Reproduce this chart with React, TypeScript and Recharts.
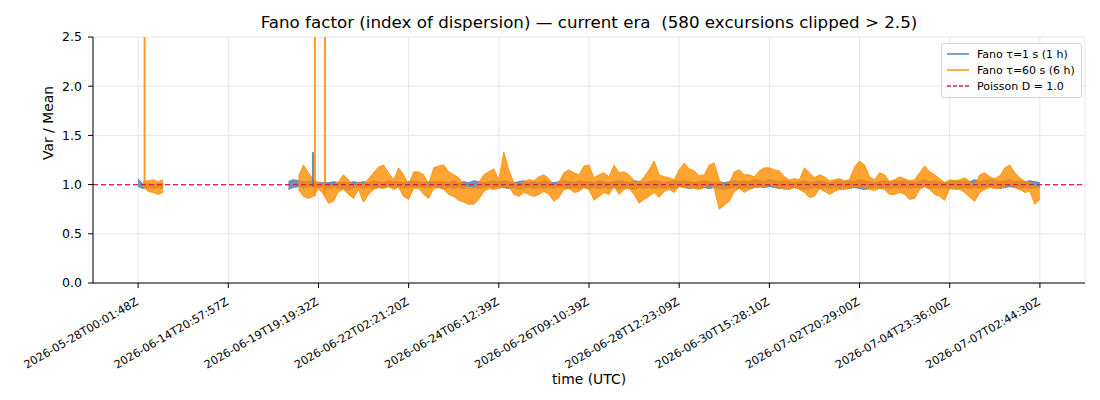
import { Area, Bar, CartesianGrid, ComposedChart, Legend, ReferenceLine, XAxis, YAxis } from "recharts";

// x is a sample index (0..180); ticks sit on every 18th sample
const tickIdx = [0, 18, 36, 54, 72, 90, 108, 126, 144, 162, 180];
const tickLabels = [
  "2026-05-28T00:01:48Z",
  "2026-06-14T20:57:57Z",
  "2026-06-19T19:19:32Z",
  "2026-06-22T02:21:20Z",
  "2026-06-24T06:12:39Z",
  "2026-06-26T09:10:39Z",
  "2026-06-28T12:23:09Z",
  "2026-06-30T15:28:10Z",
  "2026-07-02T20:29:00Z",
  "2026-07-04T23:36:00Z",
  "2026-07-07T02:44:30Z",
];
const yTicks = [0, 0.5, 1.0, 1.5, 2.0, 2.5];

// first short segment (samples 0..5): low / high envelope of each series
const seg1Start = 0;
const blueLo1 = [0.98, 0.96, 0.97, 0.96, 0.97, 0.96];
const blueHi1 = [1.06, 1.0, 1.01, 1.0, 1.01, 1.01];
const orangeLo1 = [null, 0.98, 0.93, 0.92, 0.9, 0.92];
const orangeHi1 = [null, 1.03, 1.04, 1.05, 1.03, 1.05];

// main segment (samples 30..180)
const seg2Start = 30;
const blueLo2 = [
  0.95, 0.97, 0.98, 0.97, 0.98, 0.98, 0.97, 0.98, 0.96, 0.98, 0.96, 0.96, 0.94, 0.97, 0.98, 0.96, 0.97, 0.96, 0.97, 0.97,
  0.98, 0.97, 0.98, 0.96, 0.97, 0.98, 0.98, 0.97, 0.97, 0.98, 0.97, 0.96, 0.97, 0.96, 0.97, 0.96, 0.98, 0.97, 0.96, 0.97,
  0.98, 0.97, 0.98, 0.97, 0.96, 0.97, 0.95, 0.96, 0.97, 0.96, 0.97, 0.96, 0.97, 0.96, 0.98, 0.97, 0.96, 0.97, 0.96, 0.97,
  0.96, 0.97, 0.96, 0.97, 0.96, 0.97, 0.95, 0.97, 0.96, 0.95, 0.97, 0.96, 0.97, 0.96, 0.97, 0.96, 0.97, 0.96, 0.98, 0.97,
  0.96, 0.97, 0.96, 0.97, 0.96, 0.97, 0.96, 0.95, 0.96, 0.97, 0.96, 0.97, 0.96, 0.97, 0.98, 0.97, 0.98, 0.97, 0.96, 0.97,
  0.96, 0.97, 0.96, 0.95, 0.96, 0.97, 0.96, 0.97, 0.96, 0.97, 0.96, 0.97, 0.96, 0.97, 0.96, 0.95, 0.96, 0.97, 0.96, 0.97,
  0.96, 0.97, 0.96, 0.97, 0.96, 0.97, 0.97, 0.98, 0.96, 0.97, 0.96, 0.97, 0.96, 0.97, 0.96, 0.97, 0.96, 0.97, 0.96, 0.97,
  0.98, 0.97, 0.96, 0.97, 0.98, 0.97, 0.96, 0.97, 0.96, 0.97, 0.97,
];
const blueHi2 = [
  1.03, 1.05, 1.04, 1.03, 1.03, 1.04, 1.02, 1.02, 1.02, 1.03, 1.02, 1.03, 1.02, 1.03, 1.02, 1.03, 1.02, 1.04, 1.03, 1.02,
  1.04, 1.03, 1.03, 1.02, 1.03, 1.04, 1.03, 1.02, 1.03, 1.03, 1.03, 1.03, 1.02, 1.04, 1.02, 1.03, 1.02, 1.04, 1.03, 1.02,
  1.03, 1.04, 1.03, 1.04, 1.03, 1.02, 1.03, 1.04, 1.02, 1.03, 1.02, 1.04, 1.03, 1.02, 1.03, 1.04, 1.03, 1.02, 1.04, 1.03,
  1.03, 1.02, 1.04, 1.03, 1.02, 1.03, 1.04, 1.03, 1.02, 1.04, 1.03, 1.02, 1.03, 1.04, 1.03, 1.02, 1.03, 1.04, 1.03, 1.04,
  1.03, 1.02, 1.03, 1.04, 1.03, 1.02, 1.03, 1.02, 1.03, 1.04, 1.03, 1.04, 1.03, 1.05, 1.04, 1.03, 1.05, 1.04, 1.03, 1.04,
  1.03, 1.02, 1.03, 1.04, 1.02, 1.03, 1.04, 1.03, 1.02, 1.03, 1.04, 1.03, 1.04, 1.03, 1.05, 1.04, 1.03, 1.02, 1.03, 1.04,
  1.03, 1.04, 1.03, 1.04, 1.03, 1.02, 1.04, 1.05, 1.03, 1.04, 1.03, 1.02, 1.03, 1.04, 1.03, 1.04, 1.03, 1.05, 1.03, 1.04,
  1.05, 1.04, 1.03, 1.04, 1.05, 1.03, 1.04, 1.03, 1.04, 1.03, 1.02,
];
const orangeLo2 = [
  null, null, 0.95, 0.88, 0.86, 0.88, 0.96, 0.9, 0.81, 0.83, 0.93, 0.95, 0.9, 0.86, 0.95, 0.82, 0.9, 0.95, 0.97, 0.96,
  0.98, 0.95, 0.97, 0.88, 0.85, 0.96, 0.96, 0.9, 0.86, 0.96, 0.97, 0.95, 0.9, 0.88, 0.84, 0.82, 0.8, 0.8, 0.85, 0.93,
  0.96, 0.95, 0.96, 0.98, 0.98, 0.9, 0.88, 0.92, 0.9, 0.88, 0.9, 0.93, 0.9, 0.83, 0.87, 0.95, 0.96, 0.92, 0.93, 0.97,
  0.95, 0.84, 0.88, 0.92, 0.9, 0.98, 0.9, 0.95, 0.96, 0.9, 0.81, 0.85, 0.88, 0.92, 0.87, 0.93, 0.95, 0.92, 0.98, 0.98,
  0.97, 0.96, 0.95, 0.97, 1.0, 0.96, 0.75, 0.79, 0.83, 0.93, 0.96, 0.92, 0.95, 0.97, 0.97, 0.98, 1.0, 0.98, 0.97, 0.95,
  0.95, 0.97, 0.95, 0.92, 0.87, 0.88, 0.96, 0.93, 0.9, 0.93, 0.95, 0.95, 0.96, 0.98, 0.98, 0.97, 0.95, 0.94, 0.96, 0.95,
  0.9, 0.9, 0.92, 0.9, 0.85, 0.86, 0.95, 0.98, 0.95, 0.9, 0.88, 0.84, 0.96, 0.95, 0.95, 0.92, 0.87, 0.83, 0.92, 0.95,
  0.97, 0.96, 0.96, 0.98, 1.0, 0.97, 0.95, 0.92, 0.93, 0.8, 0.85,
];
const orangeHi2 = [
  null, null, 1.08, 1.2, 1.12, 1.05, 1.02, 1.0, 0.98, 1.0, 1.03, 1.1, 1.05, 0.97, 1.03, 1.0, 1.06, 1.12, 1.18, 1.2,
  1.12, 1.05, 1.17, 1.1, 1.0, 1.13, 1.13, 1.1, 1.0, 1.17, 1.19, 1.2, 1.13, 1.1, 1.07, 1.0, 0.97, 0.96, 1.02, 1.1,
  1.13, 1.16, 1.05, 1.33, 1.15, 1.02, 1.0, 1.03, 1.05, 1.04, 1.08, 1.1, 1.06, 0.98, 1.03, 1.12, 1.15, 1.12, 1.1, 1.19,
  1.2, 1.07, 1.1, 1.12, 1.08, 1.2, 1.12, 1.13, 1.1, 1.04, 1.02, 1.08, 1.15, 1.24, 1.1, 1.08, 1.07, 1.05, 1.15, 1.22,
  1.16, 1.14, 1.09, 1.1, 1.2, 1.22, 1.05, 0.98, 1.02, 1.13, 1.15, 1.1, 1.1, 1.08, 1.14, 1.17, 1.17, 1.15, 1.14, 1.08,
  1.05, 1.06, 1.05, 1.17, 1.12, 1.07, 1.1, 1.08, 1.04, 1.05, 1.06, 1.04, 1.05, 1.18, 1.24, 1.2, 1.08, 1.05, 1.12, 1.1,
  1.03, 1.05, 1.08, 1.06, 1.04, 1.05, 1.12, 1.19, 1.13, 1.1, 1.06, 1.02, 1.05, 1.04, 1.05, 1.07, 1.03, 1.0, 1.1, 1.12,
  1.08, 1.06, 1.09, 1.17, 1.2, 1.12, 1.07, 1.03, 1.02, 0.98, 0.97,
];

// single-sample excursions (orange ones run past the 2.5 clip)
const orangeSpikeIdx = [1, 35, 37];
const orangeSpikeTop = [3.0, 3.0, 3.0];
const blueSpikeIdx = [35];
const blueSpikeTop = [1.33];

const BLUE = "#4a78b2";
const ORANGE = "#ff8c00";
const RED = "#dc1f45";

type Pair = [number, number] | null;
type Row = { x: number; blue: Pair; orange: Pair; oSpike: Pair; bSpike: Pair };

function pair(lo: number | null | undefined, hi: number | null | undefined): Pair {
  return lo == null || hi == null ? null : [lo, hi];
}

function buildRows(): Row[] {
  const rows: Row[] = [];
  for (let k = 0; k <= 180; k++) {
    const i1 = k - seg1Start;
    const i2 = k - seg2Start;
    let blue: Pair = null;
    let orange: Pair = null;
    if (i1 >= 0 && i1 < blueLo1.length) {
      blue = pair(blueLo1[i1], blueHi1[i1]);
      orange = pair(orangeLo1[i1], orangeHi1[i1]);
    } else if (i2 >= 0 && i2 < blueLo2.length) {
      blue = pair(blueLo2[i2], blueHi2[i2]);
      orange = pair(orangeLo2[i2], orangeHi2[i2]);
    }
    const oi = orangeSpikeIdx.indexOf(k);
    const bi = blueSpikeIdx.indexOf(k);
    rows.push({
      x: k,
      blue,
      orange,
      oSpike: oi >= 0 && orange ? [orange[0], orangeSpikeTop[oi]] : null,
      bSpike: bi >= 0 && blue ? [blue[0], blueSpikeTop[bi]] : null,
    });
  }
  return rows;
}
const data = buildRows();

const legendItems = [
  { label: "Fano τ=1 s (1 h)", color: BLUE, dash: undefined as string | undefined },
  { label: "Fano τ=60 s (6 h)", color: ORANGE, dash: undefined as string | undefined },
  { label: "Poisson D = 1.0", color: RED, dash: "4 2" },
];

function LegendBox() {
  return (
    <div
      style={{
        border: "1px solid #d5d5d5",
        borderRadius: 3,
        background: "rgba(255,255,255,0.85)",
        padding: "2px 6px 3px 5px",
        fontSize: 11,
        color: "#000",
      }}
    >
      {legendItems.map((it) => (
        <div key={it.label} style={{ display: "flex", alignItems: "center", height: 16 }}>
          <svg width={22} height={8}>
            <line x1={0} y1={4} x2={22} y2={4} stroke={it.color} strokeWidth={1.4} strokeDasharray={it.dash} />
          </svg>
          <span style={{ marginLeft: 8, whiteSpace: "nowrap" }}>{it.label}</span>
        </div>
      ))}
    </div>
  );
}

function DateTick(props: any) {
  const { x, y, payload } = props;
  const i = tickIdx.indexOf(payload.value);
  return (
    <g transform={`translate(${x + 1},${y + 14}) rotate(-30)`}>
      <text x={0} y={0} textAnchor="end" fontSize={11.2} fill="#000">
        {tickLabels[i]}
      </text>
    </g>
  );
}

export default function App() {
  return (
    <div style={{ position: "absolute", left: 0, top: 0, width: 1100, height: 400, fontFamily: "'DejaVu Sans', sans-serif", background: "#fff" }}>
      <div style={{ position: "absolute", left: 93, top: 12, width: 992, textAlign: "center", fontSize: 16.7, color: "#000", whiteSpace: "pre" }}>
        {"Fano factor (index of dispersion) — current era  (580 excursions clipped > 2.5)"}
      </div>
      <ComposedChart width={1100} height={400} data={data} margin={{ top: 37, right: 15, bottom: 12, left: 33 }}>
        <CartesianGrid stroke="#e6e6e6" strokeWidth={1} />
        <XAxis
          dataKey="x"
          type="number"
          domain={[-9, 189]}
          ticks={tickIdx}
          tick={<DateTick />}
          tickSize={5}
          tickMargin={2}
          height={105}
          interval={0}
          axisLine={{ stroke: "#000", strokeWidth: 1 }}
          tickLine={{ stroke: "#000" }}
          label={{ value: "time (UTC)", position: "insideBottom", offset: 4, fontSize: 13.9, fill: "#000" }}
        />
        <YAxis
          type="number"
          domain={[0, 2.5]}
          allowDataOverflow
          ticks={yTicks}
          tickFormatter={(v: number) => v.toFixed(1)}
          width={60}
          tickSize={5}
          tickMargin={6}
          tick={{ fontSize: 12.5, fill: "#000" }}
          axisLine={{ stroke: "#000", strokeWidth: 1 }}
          tickLine={{ stroke: "#000" }}
          label={{ value: "Var / Mean", angle: -90, position: "insideLeft", offset: 15, fontSize: 13.9, fill: "#000" }}
        />
        <Legend
          layout="vertical"
          verticalAlign="middle"
          align="center"
          content={() => <LegendBox />}
          wrapperStyle={{ position: "absolute", top: 43, left: 941, width: "auto", height: "auto" }}
        />
        <Area
          dataKey="blue"
          name="Fano τ=1 s (1 h)"
          type="linear"
          stroke={BLUE}
          strokeOpacity={0.85}
          strokeWidth={1}
          fill={BLUE}
          fillOpacity={0.8}
          dot={false}
          activeDot={false}
          isAnimationActive={false}
        />
        <Bar dataKey="bSpike" fill={BLUE} fillOpacity={0.85} barSize={2} isAnimationActive={false} legendType="none" />
        <Area
          dataKey="orange"
          name="Fano τ=60 s (6 h)"
          type="linear"
          stroke={ORANGE}
          strokeOpacity={0.8}
          strokeWidth={1}
          fill={ORANGE}
          fillOpacity={0.8}
          dot={false}
          activeDot={false}
          isAnimationActive={false}
        />
        <Bar dataKey="oSpike" fill={ORANGE} fillOpacity={0.85} barSize={2} isAnimationActive={false} legendType="none" />
        <ReferenceLine y={1} stroke={RED} strokeWidth={1.3} strokeDasharray="5 3" />
      </ComposedChart>
    </div>
  );
}
